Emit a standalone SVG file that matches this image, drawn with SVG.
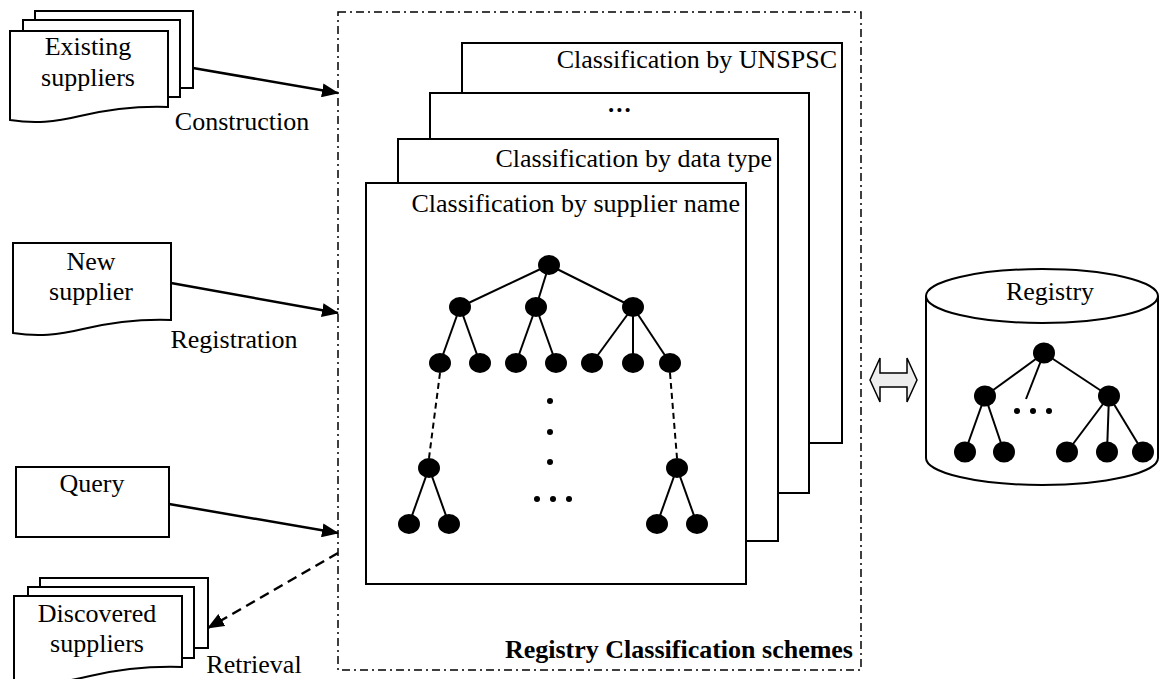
<svg xmlns="http://www.w3.org/2000/svg" width="1160" height="679" viewBox="0 0 1160 679">
<style>
text{font-family:"Liberation Serif","Times New Roman",serif;font-size:26px;fill:#000}
.c{text-anchor:middle}
.r{text-anchor:end}
.b{font-weight:bold}
.doc{fill:#fff;stroke:#000;stroke-width:2}
.panel{fill:#fff;stroke:#000;stroke-width:2}
.e{stroke:#000;stroke-width:2;fill:none}
.d{stroke:#000;stroke-width:2;fill:none;stroke-dasharray:6 4}
.n{fill:#000}
.arr{stroke:#000;stroke-width:2.5;fill:none}
</style>
<defs>
<marker id="ah" markerUnits="userSpaceOnUse" markerWidth="18" markerHeight="14" refX="16" refY="7" orient="auto">
<path d="M0,0 L17,7 L0,14 Z" fill="#000"/>
</marker>
</defs>

<g id="scheme-frame">
<rect x="338" y="12" width="523" height="658" fill="none" stroke="#000" stroke-width="1.5" stroke-dasharray="8 4 2 4"/>
<text class="r b" x="853" y="658">Registry Classification schemes</text>
</g>

<g id="panel-unspsc">
<rect class="panel" x="462" y="43" width="380" height="400"/>
<text class="r" x="837" y="68">Classification by UNSPSC</text>
</g>
<g id="panel-dots">
<rect class="panel" x="430" y="93" width="379" height="400"/>
<text class="c b" x="621" y="115" style="font-size:15px;letter-spacing:3px">•••</text>
</g>
<g id="panel-datatype">
<rect class="panel" x="398" y="139" width="380" height="402"/>
<text class="r" x="772" y="167">Classification by data type</text>
</g>
<g id="panel-suppliername">
<rect class="panel" x="366" y="183" width="380" height="401"/>
<text class="r" x="740" y="212">Classification by supplier name</text>
<g id="tree">
<line class="e" x1="549" y1="265" x2="460" y2="307"/>
<line class="e" x1="549" y1="265" x2="536" y2="307"/>
<line class="e" x1="549" y1="265" x2="633" y2="307"/>
<line class="e" x1="460" y1="307" x2="440" y2="363"/>
<line class="e" x1="460" y1="307" x2="480" y2="363"/>
<line class="e" x1="536" y1="307" x2="516" y2="363"/>
<line class="e" x1="536" y1="307" x2="556" y2="363"/>
<line class="e" x1="633" y1="307" x2="592" y2="363"/>
<line class="e" x1="633" y1="307" x2="633" y2="363"/>
<line class="e" x1="633" y1="307" x2="670" y2="363"/>
<line class="d" x1="440" y1="373" x2="429" y2="458"/>
<line class="d" x1="670" y1="373" x2="677" y2="458"/>
<line class="e" x1="429" y1="468" x2="409" y2="524"/>
<line class="e" x1="429" y1="468" x2="449" y2="524"/>
<line class="e" x1="677" y1="468" x2="657" y2="524"/>
<line class="e" x1="677" y1="468" x2="697" y2="524"/>
<ellipse class="n" cx="549" cy="265" rx="11" ry="10"/>
<ellipse class="n" cx="460" cy="307" rx="11" ry="10"/>
<ellipse class="n" cx="536" cy="307" rx="11" ry="10"/>
<ellipse class="n" cx="633" cy="307" rx="11" ry="10"/>
<ellipse class="n" cx="440" cy="363" rx="11" ry="10"/>
<ellipse class="n" cx="480" cy="363" rx="11" ry="10"/>
<ellipse class="n" cx="516" cy="363" rx="11" ry="10"/>
<ellipse class="n" cx="556" cy="363" rx="11" ry="10"/>
<ellipse class="n" cx="592" cy="363" rx="11" ry="10"/>
<ellipse class="n" cx="633" cy="363" rx="11" ry="10"/>
<ellipse class="n" cx="670" cy="363" rx="11" ry="10"/>
<ellipse class="n" cx="429" cy="468" rx="11" ry="10"/>
<ellipse class="n" cx="677" cy="468" rx="11" ry="10"/>
<ellipse class="n" cx="409" cy="524" rx="11" ry="10"/>
<ellipse class="n" cx="449" cy="524" rx="11" ry="10"/>
<ellipse class="n" cx="657" cy="524" rx="11" ry="10"/>
<ellipse class="n" cx="697" cy="524" rx="11" ry="10"/>
<circle class="n" cx="550" cy="401" r="3"/>
<circle class="n" cx="550" cy="432" r="3"/>
<circle class="n" cx="550" cy="462" r="3"/>
<circle class="n" cx="537" cy="499" r="3"/>
<circle class="n" cx="553" cy="499" r="3"/>
<circle class="n" cx="569" cy="499" r="3"/>
</g>
</g>

<g id="existing-suppliers">
<rect class="doc" x="35" y="11" width="158" height="77"/>
<rect class="doc" x="23" y="20" width="157" height="77"/>
<path class="doc" d="M10,31 H168 V107 C140,106 110,109 80,116 C55,122 35,124 10,120 Z"/>
<text class="c" x="88" y="55">Existing</text>
<text class="c" x="88" y="86">suppliers</text>
</g>

<g id="new-supplier">
<path class="doc" d="M13,243 H171 V320 C143,319 113,322 83,329 C58,335 38,337 13,333 Z"/>
<text class="c" x="91" y="270">New</text>
<text class="c" x="91" y="300">supplier</text>
</g>

<g id="query">
<rect class="doc" x="16" y="467" width="153" height="70"/>
<text class="c" x="92" y="492">Query</text>
</g>

<g id="discovered-suppliers">
<rect class="doc" x="40" y="578" width="168" height="70"/>
<rect class="doc" x="28" y="587" width="166" height="71"/>
<path class="doc" d="M14,596 H182 V667 C150,666 120,669 90,676 C65,682 40,686 14,684 Z"/>
<text class="c" x="97" y="622">Discovered</text>
<text class="c" x="97" y="652">suppliers</text>
</g>

<g id="registry">
<path d="M926,296 V458 A116,27 0 0 0 1158,458 V296" fill="#fff" stroke="#000" stroke-width="2"/>
<ellipse cx="1042" cy="296" rx="116" ry="27" fill="#fff" stroke="#000" stroke-width="2"/>
<text class="c" x="1050" y="300">Registry</text>
<line class="e" x1="1044" y1="353" x2="985" y2="396"/>
<line class="e" x1="1044" y1="353" x2="1026" y2="399"/>
<line class="e" x1="1044" y1="353" x2="1109" y2="396"/>
<line class="e" x1="985" y1="396" x2="965" y2="452"/>
<line class="e" x1="985" y1="396" x2="1004" y2="452"/>
<line class="e" x1="1109" y1="396" x2="1067" y2="452"/>
<line class="e" x1="1109" y1="396" x2="1107" y2="452"/>
<line class="e" x1="1109" y1="396" x2="1143" y2="452"/>
<ellipse class="n" cx="1044" cy="353" rx="11" ry="10.5"/>
<ellipse class="n" cx="985" cy="396" rx="11" ry="10.5"/>
<ellipse class="n" cx="1109" cy="396" rx="11" ry="10.5"/>
<ellipse class="n" cx="965" cy="452" rx="11" ry="10.5"/>
<ellipse class="n" cx="1004" cy="452" rx="11" ry="10.5"/>
<ellipse class="n" cx="1067" cy="452" rx="11" ry="10.5"/>
<ellipse class="n" cx="1107" cy="452" rx="11" ry="10.5"/>
<ellipse class="n" cx="1143" cy="452" rx="11" ry="10.5"/>
<circle class="n" cx="1017" cy="411" r="3"/>
<circle class="n" cx="1033" cy="411" r="3"/>
<circle class="n" cx="1049" cy="411" r="3"/>
</g>

<g id="connectors">
<line class="arr" x1="193" y1="68" x2="338" y2="93" marker-end="url(#ah)"/>
<text class="c" x="242" y="130">Construction</text>
<line class="arr" x1="171" y1="283" x2="338" y2="313" marker-end="url(#ah)"/>
<text class="c" x="234" y="348">Registration</text>
<line class="arr" x1="169" y1="504" x2="338" y2="533" marker-end="url(#ah)"/>
<line class="arr" x1="338" y1="553" x2="208" y2="628" stroke-dasharray="10 6" marker-end="url(#ah)"/>
<text class="c" x="254" y="673">Retrieval</text>
<path d="M870,380 L880,358 V373 H907 V358 L917,380 L907,402 V387 H880 V402 Z" fill="#eeeeee" stroke="#000" stroke-width="1.5"/>
</g>
</svg>
